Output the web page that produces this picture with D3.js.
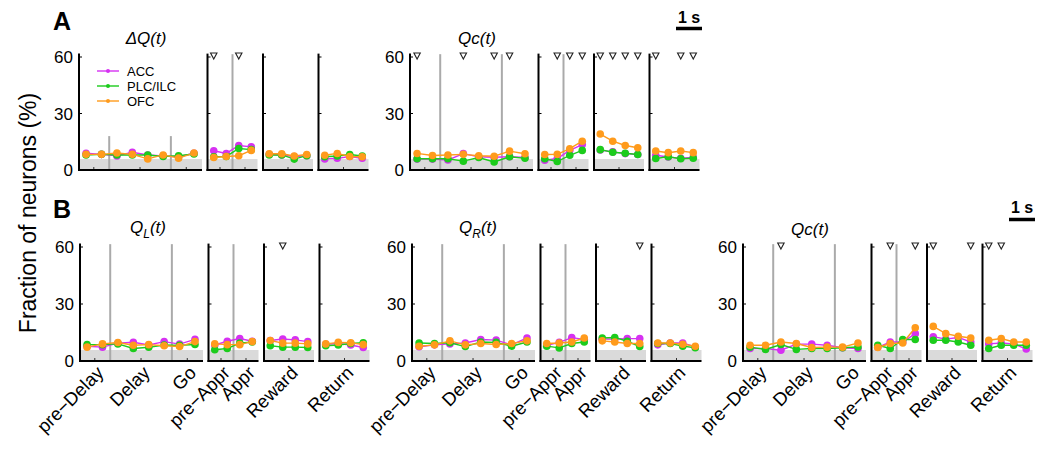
<!DOCTYPE html>
<html><head><meta charset="utf-8">
<script src="https://cdn.jsdelivr.net/npm/d3@7"></script>
<style>
html,body{margin:0;padding:0;background:#fff;}
svg{display:block;font-family:"Liberation Sans",Arial,sans-serif;}
</style></head>
<body><svg id="chart" width="1050" height="449"></svg>
<script>
// ---------------- data ----------------
const regions = ["ACC", "PLC/ILC", "OFC"];
const epochLabels = ["pre\u2212Delay", "Delay", "Go", "pre\u2212Appr", "Appr", "Reward", "Return"];
const epochTickPos = [0.5, 3.5, 6.5, 8.5, 10.5, 13.5, 17.5]; // bin positions of epoch ticks
const eventLinePos = [1.5, 5.5, 9.5];                        // delay onset, go, approach
const yTicks = [0, 30, 60];
const chanceLevel = 5.8;

// 20 bins: 0-7 trial start / delay / go, 8-11 approach, 12-15 reward, 16-19 return
const dQ_ACC  = [8.9, 8.3, 7.5, 9.4, 8.0, 7.5, 7.0, 8.9, 10.2, 8.8, 13.0, 12.3, 8.4, 8.0, 7.2, 7.6, 5.9, 6.2, 7.2, 6.2];
const dQ_PLC  = [8.0, 8.3, 8.0, 8.0, 8.0, 7.2, 7.6, 8.5, 7.0, 7.2, 11.4, 10.8, 8.0, 8.0, 5.8, 7.6, 7.0, 7.4, 8.2, 7.4];
const dQ_OFC  = [8.3, 8.3, 9.0, 8.3, 5.9, 8.0, 6.3, 9.0, 6.6, 7.2, 7.6, 10.4, 8.6, 8.6, 7.4, 8.2, 7.8, 8.8, 7.2, 7.0];
const QcA_ACC = [5.8, 5.8, 5.3, 8.7, 7.0, 6.8, 7.0, 6.6, 5.2, 6.1, 10.4, 13.5, 10.6, 9.6, 8.7, 8.2, 7.8, 6.9, 6.2, 6.7];
const QcA_PLC = [6.0, 6.0, 6.0, 4.7, 6.6, 4.3, 7.0, 6.2, 6.0, 4.5, 7.8, 10.4, 10.8, 9.4, 8.9, 8.2, 6.1, 7.0, 6.0, 6.2];
const QcA_OFC = [8.8, 7.7, 8.0, 8.3, 7.6, 7.3, 10.0, 8.6, 8.2, 8.3, 11.3, 15.3, 19.1, 15.3, 13.0, 11.8, 10.1, 9.2, 10.1, 9.2];
const QL_ACC  = [7.8, 7.3, 9.4, 9.9, 8.4, 10.2, 8.9, 11.4, 8.4, 10.4, 11.8, 10.4, 10.8, 11.6, 11.1, 10.2, 8.8, 9.2, 8.4, 7.1];
const QL_PLC  = [8.6, 8.6, 9.0, 6.6, 7.2, 8.4, 8.2, 8.7, 5.9, 6.6, 9.4, 10.0, 8.0, 7.3, 7.3, 7.1, 8.0, 8.4, 9.2, 9.6];
const QL_OFC  = [7.3, 9.0, 9.7, 8.3, 8.6, 8.0, 7.6, 10.2, 9.0, 8.6, 8.6, 10.2, 10.8, 9.4, 9.4, 9.0, 9.0, 9.8, 9.6, 8.6];
const QR_ACC  = [7.5, 8.5, 9.0, 9.5, 11.3, 11.0, 8.5, 12.1, 8.2, 9.8, 12.3, 11.4, 11.5, 11.6, 11.8, 11.8, 8.5, 9.5, 9.5, 7.4];
const QR_PLC  = [9.5, 9.2, 9.6, 7.6, 10.0, 9.8, 7.8, 10.0, 7.8, 6.9, 9.2, 10.0, 12.1, 12.4, 10.4, 7.6, 9.2, 9.2, 7.8, 7.0];
const QR_OFC  = [7.8, 8.5, 10.6, 8.5, 9.2, 8.7, 9.2, 10.6, 9.2, 9.5, 10.0, 12.1, 10.6, 10.0, 9.2, 9.2, 9.5, 9.5, 8.8, 7.8];
const QcB_ACC = [6.6, 6.6, 5.7, 8.9, 8.9, 8.3, 7.0, 6.6, 7.2, 10.0, 10.0, 14.4, 12.8, 11.5, 12.4, 10.0, 9.0, 9.5, 9.0, 6.3];
const QcB_PLC = [7.3, 6.1, 8.7, 6.1, 6.6, 6.6, 7.0, 7.4, 8.3, 6.6, 11.3, 11.3, 10.9, 10.9, 10.0, 8.3, 6.6, 8.3, 8.3, 8.3];
const QcB_OFC = [8.3, 8.3, 10.0, 9.2, 7.1, 7.3, 7.3, 9.5, 7.1, 9.2, 9.5, 17.5, 18.2, 14.4, 13.0, 12.1, 10.9, 11.8, 10.0, 10.0];

// significant bins (triangles)
const sig_dQ  = [8, 10];
const sig_QcA = [0, 3, 5, 6, 9, 10, 11, 12, 13, 14, 15, 16, 18, 19];
const sig_QL  = [13];
const sig_QR  = [15];
const sig_QcB = [2, 9, 11, 12, 15, 16, 17];

const panelTitles = ["\u0394Q(t)", "Qc(t)", "Q_L(t)", "Q_R(t)", "Qc(t)"];

// ---------------- layout / style ----------------
const colors = ["#d631f2", "#1ccc1c", "#ff9b1c"];
const segments = [
  {start: 0, n: 8, w: 123, d0: -0.46, d1: 7.52},
  {start: 8, n: 4, w: 50, d0: -0.5, d1: 3.5},
  {start: 12, n: 4, w: 50, d0: -0.5, d1: 3.5},
  {start: 16, n: 4, w: 50, d0: -0.5, d1: 3.5}
];
const gap = 5.5;
const rows = [
  {y0: 170, y60: 57},
  {y0: 361, y60: 247}
];
const panels = [
  {row: 0, x: 79,  title: panelTitles[0], tx: 146, ty: 44, series: [dQ_ACC, dQ_PLC, dQ_OFC], sig: sig_dQ, legend: true, xlabels: false, shortLines: true},
  {row: 0, x: 410, title: panelTitles[1], tx: 477, ty: 44, series: [QcA_ACC, QcA_PLC, QcA_OFC], sig: sig_QcA, legend: false, xlabels: false},
  {row: 1, x: 80,  title: panelTitles[2], tx: 148, ty: 233, series: [QL_ACC, QL_PLC, QL_OFC], sig: sig_QL, legend: false, xlabels: true},
  {row: 1, x: 412, title: panelTitles[3], tx: 478, ty: 233, series: [QR_ACC, QR_PLC, QR_OFC], sig: sig_QR, legend: false, xlabels: true},
  {row: 1, x: 743, title: panelTitles[4], tx: 810, ty: 235, series: [QcB_ACC, QcB_PLC, QcB_OFC], sig: sig_QcB, legend: false, xlabels: true}
];

const svg = d3.select("#chart");

svg.append("text").attr("x", 53).attr("y", 30).attr("font-size", 25).attr("font-weight", "bold").text("A");
svg.append("text").attr("x", 53).attr("y", 218).attr("font-size", 25).attr("font-weight", "bold").text("B");

svg.append("text").attr("transform", "translate(36,213) rotate(-90)").attr("text-anchor", "middle")
  .attr("font-size", 23).text("Fraction of neurons (%)");

function scaleBar(x, yText, yBar) {
  svg.append("text").attr("x", x + 13).attr("y", yText).attr("text-anchor", "middle")
    .attr("font-size", 16).attr("font-weight", "bold").text("1 s");
  svg.append("line").attr("x1", x).attr("x2", x + 26).attr("y1", yBar).attr("y2", yBar)
    .attr("stroke", "#000").attr("stroke-width", 3.5);
}
scaleBar(676, 23, 28.5);
scaleBar(1009, 213, 219.5);

function segScale(p, k) {
  let x = p.x;
  for (let i = 0; i < k; i++) x += segments[i].w + gap;
  const s = segments[k];
  return d3.scaleLinear().domain([s.d0, s.d1]).range([x, x + s.w]);
}
function binToSeg(b) {
  for (let k = 0; k < segments.length; k++) {
    const s = segments[k];
    if (b >= s.start - 0.5 && b < s.start + s.n) return k;
  }
  return segments.length - 1;
}
function xOf(p, b) {
  const k = binToSeg(b);
  return segScale(p, k)(b - segments[k].start);
}

panels.forEach(p => {
  const r = rows[p.row];
  const y = d3.scaleLinear().domain([0, 60]).range([r.y0, r.y60]);
  const g = svg.append("g");

  const t = g.append("text").attr("x", p.tx).attr("y", p.ty).attr("text-anchor", "middle")
    .attr("font-size", 17).attr("font-style", "italic");
  const m = p.title.match(/^Q_([LR])(\(t\))$/);
  if (m) {
    t.append("tspan").text("Q");
    t.append("tspan").attr("font-size", 12).attr("dy", 5).text(m[1]);
    t.append("tspan").attr("dy", -5).text(m[2]);
  } else t.text(p.title);

  segments.forEach((s, k) => {
    const xs = segScale(p, k);
    const [xa, xb] = xs.range();
    g.append("rect").attr("x", xa).attr("width", xb - xa)
      .attr("y", y(chanceLevel)).attr("height", y(0) - y(chanceLevel)).attr("fill", "#dadada");
    epochTickPos.filter(v => binToSeg(v) === k).forEach(v => {
      const xx = xs(v - s.start);
      g.append("line").attr("x1", xx).attr("x2", xx).attr("y1", y(0)).attr("y2", y(0) - 3)
        .attr("stroke", "#333").attr("stroke-width", 1);
    });
    eventLinePos.filter(v => binToSeg(v) === k).forEach(v => {
      const xx = xs(v - s.start);
      const top = (p.shortLines && k === 0) ? 18 : 61.5;
      g.append("line").attr("x1", xx).attr("x2", xx).attr("y1", y(top)).attr("y2", y(0))
        .attr("stroke", "#aaa").attr("stroke-width", 2);
    });
    g.append("line").attr("x1", xa).attr("x2", xa).attr("y1", y(61.8)).attr("y2", y(0) + 1)
      .attr("stroke", "#000").attr("stroke-width", 2);
    g.append("line").attr("x1", xa - 1).attr("x2", xb).attr("y1", y(0)).attr("y2", y(0))
      .attr("stroke", "#000").attr("stroke-width", 2);
    yTicks.forEach(v => {
      g.append("line").attr("x1", xa).attr("x2", xa + 3).attr("y1", y(v)).attr("y2", y(v))
        .attr("stroke", "#000").attr("stroke-width", 1);
    });
    if (k === 0) {
      yTicks.forEach(v => {
        g.append("text").attr("x", xa - 6).attr("y", y(v)).attr("dy", "0.36em")
          .attr("text-anchor", "end").attr("font-size", 17).text(v);
      });
    }
  });

  p.series.forEach((vals, si) => {
    segments.forEach((s, k) => {
      const xs = segScale(p, k);
      const pts = vals.slice(s.start, s.start + s.n).map((v, i) => [xs(i), y(v)]);
      g.append("path").attr("d", d3.line()(pts)).attr("fill", "none")
        .attr("stroke", colors[si]).attr("stroke-width", 1.4);
      g.selectAll(null).data(pts).enter().append("circle")
        .attr("cx", d => d[0]).attr("cy", d => d[1]).attr("r", 3.8).attr("fill", colors[si]);
    });
  });

  p.sig.forEach(b => {
    const xx = xOf(p, b), yy = y(60) - 1;
    g.append("path").attr("d", `M${xx - 3.2},${yy - 3}L${xx + 3.2},${yy - 3}L${xx},${yy + 3}Z`)
      .attr("fill", "#fff").attr("stroke", "#222").attr("stroke-width", 1.1);
  });

  if (p.legend) {
    regions.forEach((name, i) => {
      const ly = 71 + i * 15;
      g.append("line").attr("x1", 97).attr("x2", 119).attr("y1", ly).attr("y2", ly)
        .attr("stroke", colors[i]).attr("stroke-width", 1.4);
      g.append("circle").attr("cx", 108).attr("cy", ly).attr("r", 2).attr("fill", colors[i]);
      g.append("text").attr("x", 127).attr("y", ly).attr("dy", "0.36em").attr("font-size", 13).text(name);
    });
  }

  if (p.xlabels) {
    epochLabels.forEach((lab, i) => {
      const xx = xOf(p, epochTickPos[i]) + 10;
      const yy = y(0) + 13;
      g.append("text").attr("transform", `translate(${xx},${yy}) rotate(-45)`)
        .attr("text-anchor", "end").attr("font-size", 18.5).text(lab);
    });
  }
});
</script></body></html>
